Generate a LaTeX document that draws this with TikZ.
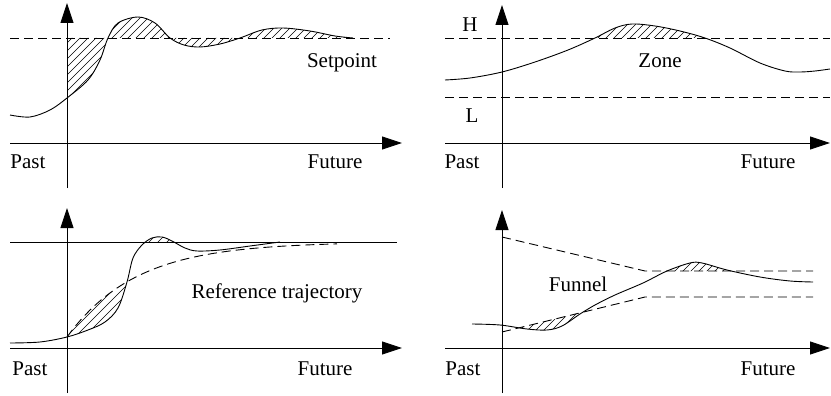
\documentclass[tikz,border=0pt]{standalone}
\usepackage{fontspec}
\setmainfont{Liberation Serif}
\usetikzlibrary{arrows.meta}
\begin{document}
\begin{tikzpicture}[x=1pt,y=-1pt,
  axis/.style={line width=0.9pt,-{Triangle[length=20pt,width=13pt]}},
  curve/.style={line width=0.9pt},
  dashline/.style={line width=0.9pt,dash pattern=on 9pt off 5pt},
  hatch/.style={line width=0.6pt},
  lbl/.style={anchor=base,inner sep=0pt,font=\fontsize{21}{25}\selectfont}]
\useasboundingbox (0,0) rectangle (831,396);
\def\curveA{plot[smooth,tension=0.55] coordinates{(10,115) (30,117) (50,110) (67,98) (88,80) (100,60) (108,38) (118,23) (138,17) (155,23) (170,38) (184,45) (200,47) (220,44) (240,38) (262,30) (283,28) (310,31) (335,36) (353,38)}}
\def\curveB{plot[smooth,tension=0.55] coordinates{(445,80) (470,78) (502,72) (535,62) (568,50) (595,38) (615,28) (632,24) (655,26) (680,31) (705,38) (730,48) (760,63) (785,71) (800,72) (815,71) (830,69)}}
\def\curveC{plot[smooth,tension=0.55] coordinates{(10,343) (40,342) (67,337) (88,330) (105,322) (118,308) (127,282) (133,258) (142,245) (152,238) (162,237) (172,241) (185,248) (197,251) (220,250) (250,246) (280,242)}}
\def\refC{plot[domain=67:337,samples=60] (\x,{242+95*exp(-(\x-67)/69)})}
\def\curveD{plot[smooth,tension=0.55] coordinates{(472,324) (500,325) (527,329) (547,330) (562,326) (580,314) (595,305) (615,295) (643,283) (667,271) (690,263) (702,263) (727,270) (760,277) (790,281) (813,282)}}
% ---------- top left: setpoint
\begin{scope}
  \clip (67,0) rectangle (400,140);
  \clip \curveA -- (10,38) -- cycle;
  \foreach \i in {-200,-192,...,400} \draw[hatch] (\i,150) -- ++(150,-150);
\end{scope}
\draw[dashline] (10,38) -- (390,38);
\draw[curve] \curveA;
\draw[axis] (10,143) -- (402,143);
\draw[axis] (67,188) -- (67,3);
\node[lbl] (tlpast) at (28,168) {Past};
\node[lbl] (tlfut) at (335,168) {Future};
\node[lbl] (setp) at (342,68) {Setpoint};
% ---------- top right: zone
\begin{scope}
  \clip (445,0) rectangle (830,38);
  \clip \curveB -- (830,143) -- (445,143) -- cycle;
  \foreach \i in {400,408,...,800} \draw[hatch] (\i,60) -- ++(60,-60);
\end{scope}
\draw[dashline] (445,38) -- (830,38);
\draw[dashline] (445,97) -- (830,97);
\draw[curve] \curveB;
\draw[axis] (445,143) -- (830,143);
\draw[axis] (502,188) -- (502,5);
\node[lbl] (hh) at (470,32) {H};
\node[lbl] (ll) at (472,122) {L};
\node[lbl] (zone) at (660,68) {Zone};
\node[lbl] (trpast) at (462,168) {Past};
\node[lbl] (trfut) at (768,168) {Future};
% ---------- bottom left: reference trajectory
\begin{scope}
  \clip (67,200) rectangle (128,345);
  \clip \curveC -- (400,200) -- (10,200) -- cycle;
  \clip \refC -- (337,393) -- (67,393) -- cycle;
  \foreach \i in {-100,-91,...,200} \draw[hatch] (\i,350) -- ++(150,-150);
\end{scope}
\begin{scope}
  \clip (10,200) rectangle (400,242);
  \clip \curveC -- (400,393) -- (10,393) -- cycle;
  \foreach \i in {50,59,...,300} \draw[hatch] (\i,260) -- ++(40,-40);
\end{scope}
\draw[curve] (10,242) -- (397,242);
\draw[dashline] \refC;
\draw[curve] \curveC;
\draw[axis] (10,348) -- (402,348);
\draw[axis] (67,393) -- (67,208);
\node[lbl] (reftr) at (277,298) {Reference trajectory};
\node[lbl] (blpast) at (30,375) {Past};
\node[lbl] (blfut) at (325,375) {Future};
% ---------- bottom right: funnel
\begin{scope}
  \clip (502,332) -- (645,297) -- (813,297) -- (813,393) -- (502,393) -- cycle;
  \clip \curveD -- (813,200) -- (472,200) -- cycle;
  \foreach \i in {450,458,...,700} \draw[hatch] (\i,360) -- ++(80,-80);
\end{scope}
\begin{scope}
  \clip (502,237) -- (645,271) -- (813,271) -- (813,200) -- (502,200) -- cycle;
  \clip \curveD -- (813,393) -- (472,393) -- cycle;
  \foreach \i in {600,608,...,800} \draw[hatch] (\i,290) -- ++(40,-40);
\end{scope}
\draw[dashline] (502,237) -- (645,271) -- (813,271);
\draw[dashline] (502,332) -- (645,297) -- (813,297);
\draw[curve] \curveD;
\draw[axis] (445,348) -- (830,348);
\draw[axis] (502,393) -- (502,210);
\node[lbl] (funnel) at (578,291) {Funnel};
\node[lbl] (brpast) at (463,375) {Past};
\node[lbl] (brfut) at (768,375) {Future};
\end{tikzpicture}
\end{document}
